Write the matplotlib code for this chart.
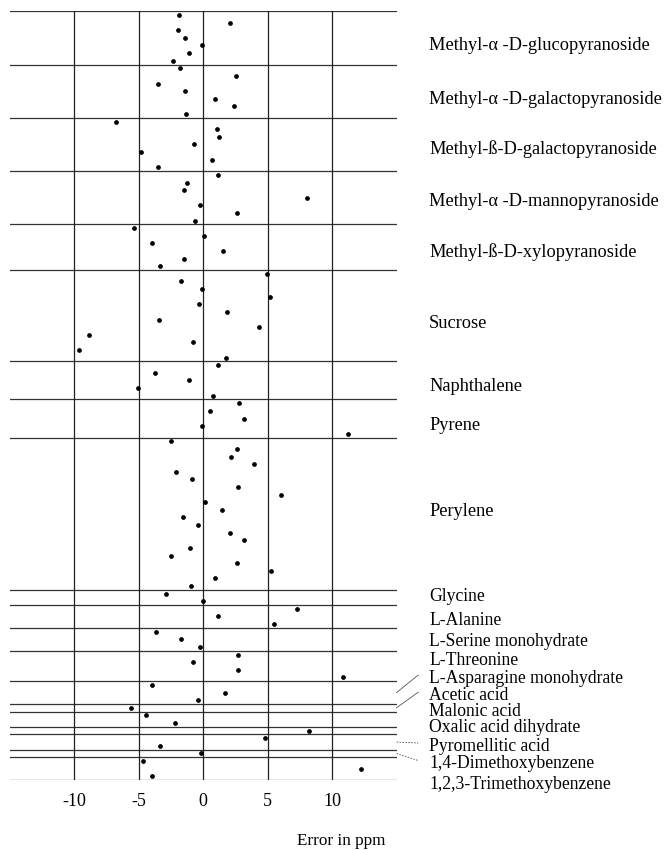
import numpy as np
import matplotlib
matplotlib.use('Agg')
import matplotlib.pyplot as plt
import matplotlib.transforms as mtransforms

# Compuestos (grupos, de arriba hacia abajo)
compounds = [
    'Methyl-\u03b1 -D-glucopyranoside',
    'Methyl-\u03b1 -D-galactopyranoside',
    'Methyl-\u00df-D-galactopyranoside',
    'Methyl-\u03b1 -D-mannopyranoside',
    'Methyl-\u00df-D-xylopyranoside',
    'Sucrose',
    'Naphthalene',
    'Pyrene',
    'Perylene',
    'Glycine',
    'L-Alanine',
    'L-Serine monohydrate',
    'L-Threonine',
    'L-Asparagine monohydrate',
    'Acetic acid',
    'Malonic acid',
    'Oxalic acid dihydrate',
    'Pyromellitic acid',
    '1,4-Dimethoxybenzene',
    '1,2,3-Trimethoxybenzene',
]

# Errores en ppm, un valor por fila
errors = [
    [-1.88, 2.09, -1.96, -1.37, -0.08, -1.06, -2.35],
    [-1.78, 2.56, -3.49, -1.40, 0.93, 2.38, -1.34],
    [-6.77, 1.11, 1.27, -0.67, -4.78, 0.72, -3.51],
    [1.19, -1.27, -1.45, 8.06, -0.21, 2.61, -0.62],
    [-5.35, 0.05, -3.95, 1.53, -1.47, -3.36],
    [4.94, -1.73, -0.05, 5.19, -0.29, 1.84, -3.41, 4.34, -8.86, -0.80, -9.64, 1.81],
    [1.19, -3.70, -1.09, -5.01, 0.78],
    [2.77, 0.52, 3.18, -0.10, 11.22],
    [-2.50, 2.64, 2.15, 3.93, -2.09, -0.83, 2.71, 6.05, 0.13, 1.50,
     -1.57, -0.36, 2.09, 3.15, -0.98, -2.48, 2.66, 5.25, 0.91, -0.93],
    [-2.89, 0.00],
    [7.26, 1.19, 5.50],
    [-3.67, -1.68, -0.23],
    [2.69, -0.75, 2.69, 10.85],
    [-3.95, 1.71, -0.39],
    [-5.60],
    [-4.42, -2.17],
    [8.19],
    [4.83, -3.31],
    [-0.18],
    [-4.65, 12.27, -3.98],
]

x_ticks = [-10, -5, 0, 5, 10]

# Posicion vertical de cada etiqueta (en filas)
label_rows = [3.94, 11.04, 17.65, 24.53, 31.10, 40.51, 48.75, 53.88, 65.27,
              76.44, 79.5, 82.26, 84.85, 87.1, 89.35, 91.45, 93.6, 96.02,
              98.33, 101.05]
# Etiquetas con linea guia
leaders = {'L-Asparagine monohydrate': '-', 'Acetic acid': '-',
           'Pyromellitic acid': (0, (2, 1.5)), '1,4-Dimethoxybenzene': (0, (2, 1.5))}

plt.rcParams['font.family'] = ['Liberation Serif', 'DejaVu Serif']

fig = plt.figure(figsize=(6.65, 8.5), dpi=100)
ax = fig.add_axes([0.0143, 0.0822, 0.582, 0.9046])

sizes = [len(e) for e in errors]
values = np.concatenate(errors)
rows = np.arange(len(values))
ax.plot(values, rows, 'o', color='black', ms=2.4, zorder=3)

bounds = np.concatenate([[0], np.cumsum(sizes)]) - 0.5
for b in bounds:
    ax.axhline(b, color='#333333', lw=0.9)
for t in x_ticks:
    ax.axvline(t, color='#222222', lw=0.9)

ax.set_xlim(-15, 15)
ax.set_ylim(bounds[-1], bounds[0])
ax.set_xticks(x_ticks)
ax.set_xticklabels([str(t) for t in x_ticks])
ax.set_yticks([])
ax.tick_params(axis='x', length=0, pad=9, labelsize=13)
for s in ax.spines.values():
    s.set_visible(False)

trans = mtransforms.blended_transform_factory(ax.transAxes, ax.transData)
centers = (bounds[:-1] + bounds[1:]) / 2
for i, (name, yl, yc) in enumerate(zip(compounds, label_rows, centers)):
    fs = 13.2 if i < 9 else 12.7
    ax.text(1.084, yl, name, transform=trans, ha='left', va='center',
            fontsize=fs, clip_on=False)
    if name in leaders:
        ax.plot([1.0, 1.056], [yc, yl - 0.4], transform=trans, color='#555555',
                lw=0.6, ls=leaders[name], clip_on=False)

fig.text(341 / 665, 1 - 841 / 850, 'Error in ppm', ha='center', va='center',
         fontsize=12.3)

fig.savefig('out.png', dpi=100)
